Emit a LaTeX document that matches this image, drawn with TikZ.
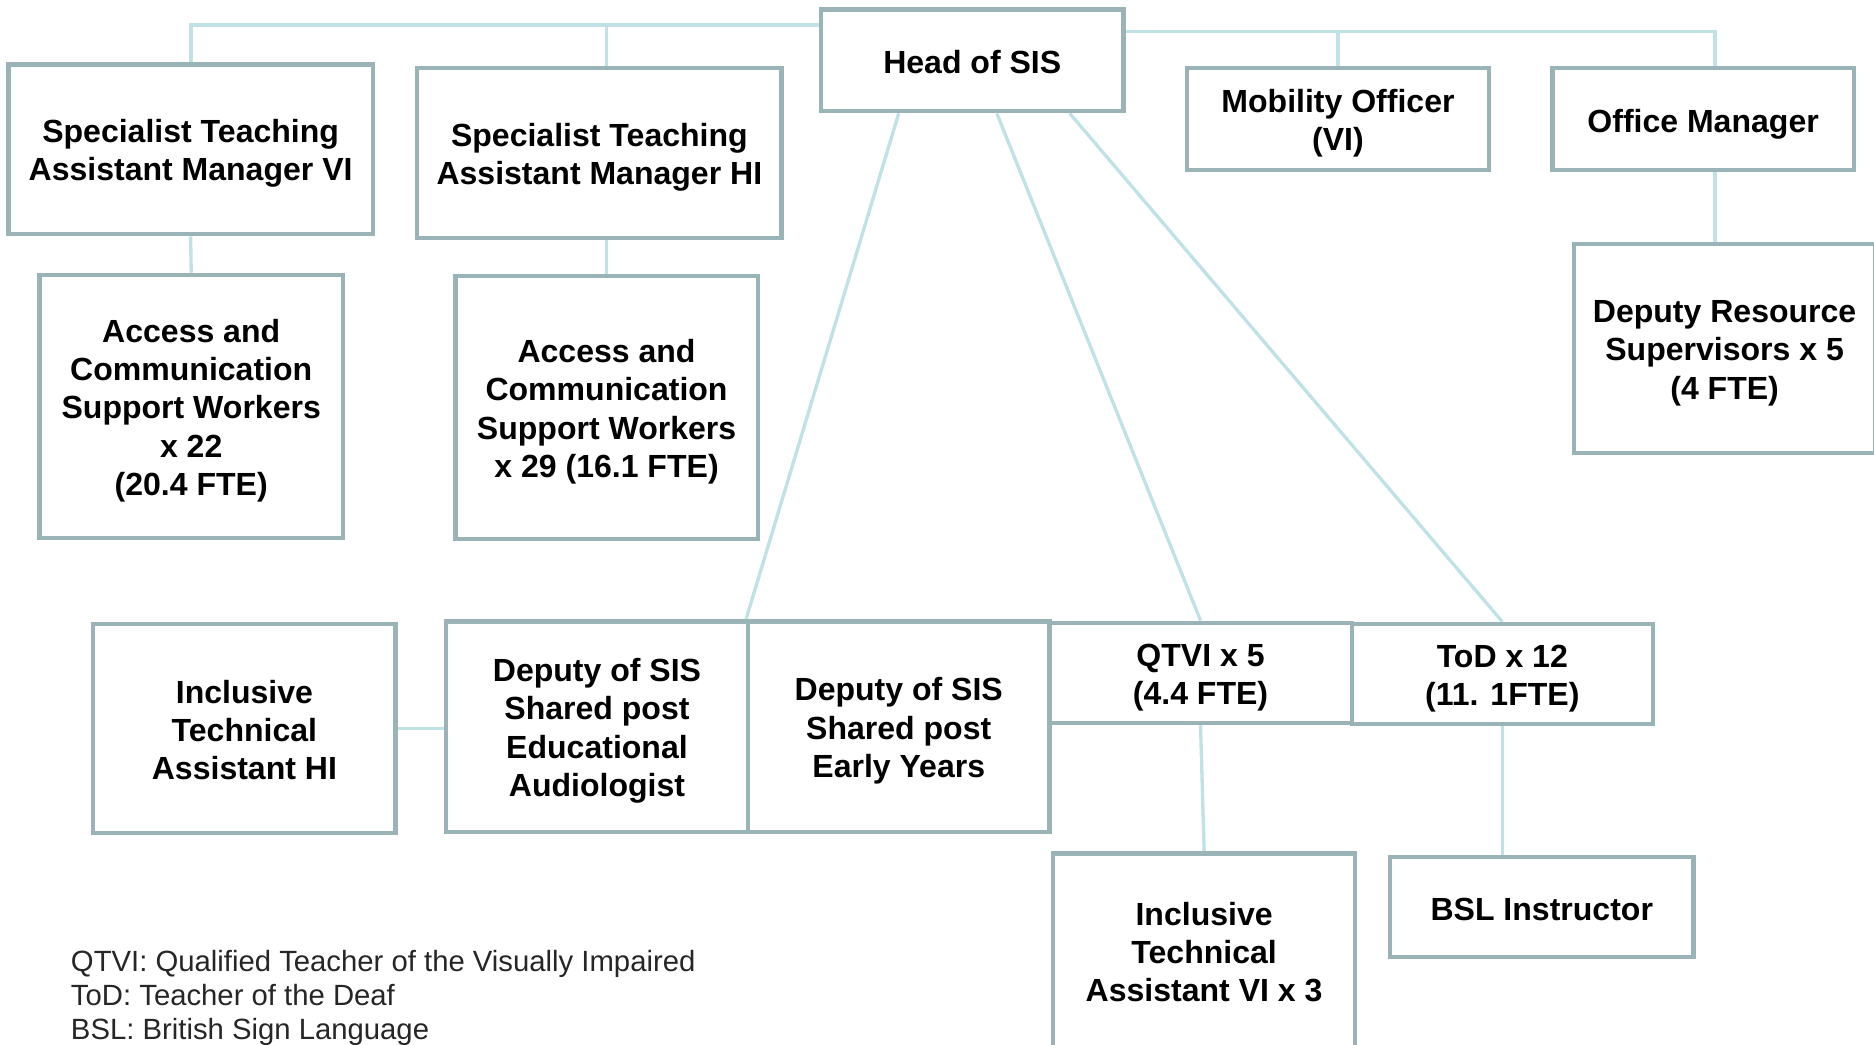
\documentclass[tikz,border=0pt]{standalone}
\usepackage{fontspec}
\setmainfont{Liberation Sans}
\usetikzlibrary{backgrounds}
\definecolor{bordc}{RGB}{154,179,183}
\definecolor{connc}{RGB}{192,225,230}
\newcommand\tl[2][-2pt]{\raisebox{#1}[\height][\depth]{\begin{tabular}{@{}c@{}}#2\end{tabular}}}
\tikzset{
  box/.style={draw=bordc, line width=1.8pt, fill=white, rectangle, inner sep=0pt,
    align=center, font=\fontsize{13.4}{16}\selectfont\bfseries},
  conn/.style={draw=connc, line width=1.4pt},
  legendtxt/.style={inner sep=0pt, align=left, anchor=north west,
    font=\fontsize{12.25}{14.25}\selectfont, text=black!85}
}
\begin{document}
\begin{tikzpicture}[x=0.5pt,y=-0.5pt]
\useasboundingbox (0,0) rectangle (1568,874);
% boxes
\node[box, minimum width=126.5pt, minimum height=42.5pt] (head) at (813.5,50.5) {\tl[-2.5pt]{Head of SIS}};
\node[box, minimum width=152.5pt, minimum height=71pt] (stamvi) at (159.5,125) {\tl{Specialist Teaching\\Assistant Manager VI}};
\node[box, minimum width=152.5pt, minimum height=71pt] (stamhi) at (501.5,128) {\tl{Specialist Teaching\\Assistant Manager HI}};
\node[box, minimum width=126.5pt, minimum height=42.5pt] (mob) at (1119.5,99.5) {\tl{Mobility Officer\\(VI)}};
\node[box, minimum width=126pt, minimum height=42.5pt] (office) at (1425,99.5) {\tl[-2.5pt]{Office Manager}};
\node[box, minimum width=127pt, minimum height=110pt] (acswvi) at (160,340) {\tl{Access and\\Communication\\Support Workers\\x 22\\(20.4 FTE)}};
\node[box, minimum width=126.5pt, minimum height=110pt] (acswhi) at (507.5,341) {\tl{Access and\\Communication\\Support Workers\\x 29 (16.1 FTE)}};
\node[box, minimum width=126pt, minimum height=87.5pt] (drs) at (1443,291.5) {\tl{Deputy Resource\\Supervisors x 5\\(4 FTE)}};
\node[box, minimum width=126.5pt, minimum height=87.5pt] (itahi) at (204.5,609.5) {\tl[-2.3pt]{Inclusive\\Technical\\Assistant HI}};
\node[box, minimum width=126.5pt, minimum height=88pt] (dea) at (499.5,608) {\tl{Deputy of SIS\\Shared post\\Educational\\Audiologist}};
\node[box, minimum width=126pt, minimum height=88pt] (dey) at (752,608) {\tl{Deputy of SIS\\Shared post\\Early Years}};
\node[box, minimum width=126.5pt, minimum height=42pt] (qtvi) at (1004.5,563) {\tl{QTVI x 5\\(4.4 FTE)}};
\node[box, minimum width=126pt, minimum height=42pt] (tod) at (1257,564) {\tl{ToD x 12\\(11. 1FTE)}};
\node[box, minimum width=126.5pt, minimum height=81pt] (itavi) at (1007.5,795) {\tl[-2.3pt]{Inclusive\\Technical\\Assistant VI x 3}};
\node[box, minimum width=127pt, minimum height=42pt] (bsl) at (1290,759) {\tl[-2.5pt]{BSL Instructor}};
% legend
\node[legendtxt] (legend) at (59,795) {QTVI: Qualified Teacher of the Visually Impaired\\ToD: Teacher of the Deaf\\BSL: British Sign Language};
% connectors
\begin{scope}[on background layer]
\coordinate (barL) at ([yshift=-7.5pt]head.north west);
\coordinate (barR) at ([yshift=-10pt]head.north east);
\draw[conn, line width=1.7pt] (barL) -| (stamvi.north);
\draw[conn] (acswhi.north |- stamhi.north) -- (acswhi.north |- barL);
\draw[conn] (barR) -| ([xshift=5pt]office.north);
\draw[conn] (mob.north) -- (mob.north |- barR);
\draw[conn] ([xshift=5pt]office.south) -- ([xshift=5pt]office.south |- drs.north);
\draw[conn] (stamvi.south) -- (acswvi.north);
\draw[conn] (acswhi.north |- stamhi.south) -- (acswhi.north);
\draw[conn] ([xshift=-30.75pt]head.south) -- (dey.north west);
\draw[conn] ([xshift=10.25pt]head.south) -- (qtvi.north);
\draw[conn] ([xshift=40.75pt]head.south) -- (tod.north);
\draw[conn] (qtvi.south) -- (itavi.north);
\draw[conn] (tod.south) -- (tod.south |- bsl.north);
\draw[conn] (itahi.east) -- (itahi.east -| dea.west);
\end{scope}
\end{tikzpicture}
\end{document}
